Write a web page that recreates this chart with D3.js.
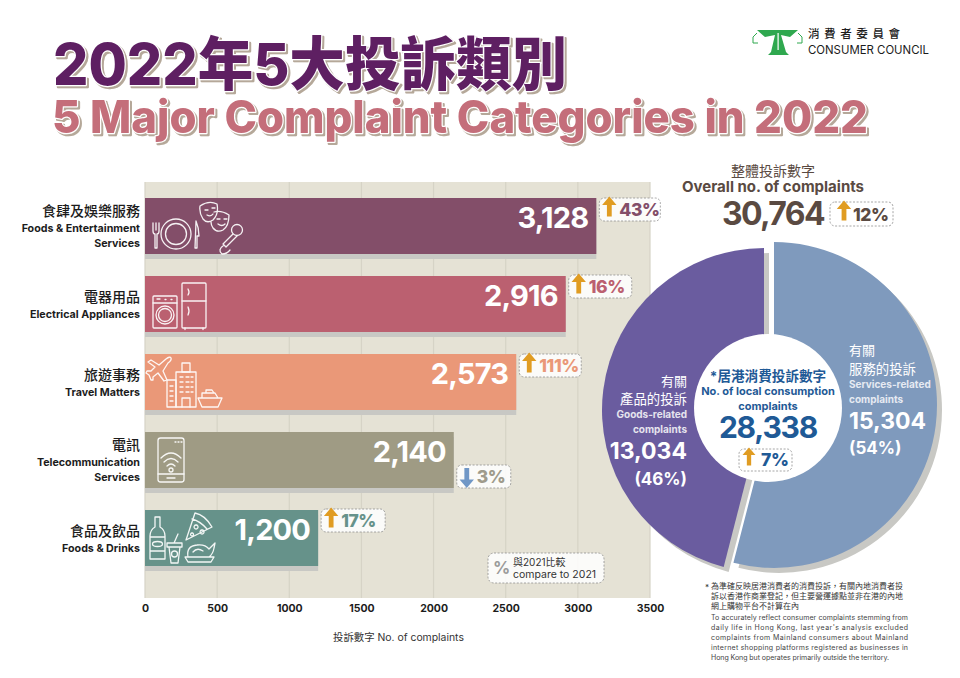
<!DOCTYPE html>
<html lang="zh-Hant">
<head>
  <meta charset="UTF-8">
  <title>2022年5大投訴類別</title>
  <style>
    html, body { margin: 0; padding: 0; background: #fff; }
    svg { display: block; }
    text { font-family: Inter, "Noto Sans CJK TC", sans-serif; }
    .cjk { font-family: "Noto Sans CJK TC", sans-serif; }
    .title { paint-order: stroke; stroke: #fff; stroke-width: 2.5; stroke-linejoin: round; filter: drop-shadow(2px 2px 0 #b5a899); }
    .icon { fill: none; stroke: #fff; stroke-width: 1.3; stroke-linejoin: round; stroke-linecap: round; opacity: 0.92; }
  </style>
  <script src="https://d3js.org/d3.v7.min.js"></script>
</head>
<body>
  <div id="chart"></div>

  <script>
    // Bar chart data
    const categories = ["食肆及娛樂服務", "電器用品", "旅遊事務", "電訊", "食品及飲品"];
    const categoriesEn = [
      ["Foods & Entertainment", "Services"],
      ["Electrical Appliances"],
      ["Travel Matters"],
      ["Telecommunication", "Services"],
      ["Foods & Drinks"]
    ];
    const complaints = [3128, 2916, 2573, 2140, 1200];
    const changes = [43, 16, 111, -3, 17];
    const barColors = ["#834e69", "#bb6070", "#ea9878", "#9f9b84", "#66928a"];
    const changeColors = ["#834e69", "#bb6070", "#ea9878", "#9f9b8c", "#66928a"];
    const tickValues = [0, 500, 1000, 1500, 2000, 2500, 3000, 3500];

    // Pie data
    const pieNames = ["services", "goods"];
    const pieValues = [15304, 13034];
    const piePercents = [54, 46];
    const pieColors = ["#7f9abd", "#6a5c9f"];
    const overallTotal = 30764;
    const overallChange = 12;
    const localTotal = 28338;
    const localChange = 7;

    const footnoteZh = [
      "為準確反映居港消費者的消費投訴，有關內地消費者投",
      "訴以香港作商業登記，但主要營運據點並非在港的內地",
      "網上購物平台不計算在內"
    ];
    const footnoteEn = [
      "To accurately reflect consumer complaints stemming from",
      "daily life in Hong Kong, last year's analysis excluded",
      "complaints from Mainland consumers about Mainland",
      "internet shopping platforms registered as businesses in",
      "Hong Kong but operates primarily outside the territory."
    ];

    const width = 960;
    const height = 678;
    const fmt = d3.format(",");
    const arrowUp = "#e09c22";
    const arrowDown = "#7097c6";
    const shadow = "#c8c8c4";
    const brown = "#5a4a42";
    const blue = "#1f5a96";

    const svg = d3.select("#chart").append("svg")
      .attr("width", width)
      .attr("height", height);

    // Title, white halo with a tan shadow behind it
    function drawTitle(str, x, y, size, len, color) {
      svg.append("text")
        .attr("class", "title")
        .attr("x", x)
        .attr("y", y)
        .attr("font-size", size)
        .attr("font-weight", 800)
        .attr("textLength", len)
        .attr("lengthAdjust", "spacingAndGlyphs")
        .attr("fill", color)
        .text(str);
    }
    drawTitle("2022年5大投訴類別", 53, 85, 58, 514, "#5e1f62");
    drawTitle("5 Major Complaint Categories in 2022", 52, 133, 45, 816, "#c46e7a");

    // Logo
    const logo = svg.append("g").attr("fill", "#2fa84f");
    logo.append("path").attr("d", "M757,30 L798,30 L790,37 L781,35 L786,52 L789,55 L768,55 L771,52 L775,35 L765,37 Z");
    logo.append("path").attr("d", "M757,33 L753,37 L753,43 L758,43 M798,33 L802,37 L802,43 L797,43")
      .attr("fill", "none").attr("stroke", "#2fa84f").attr("stroke-width", 1);
    logo.append("rect").attr("x", 777.5).attr("y", 33).attr("width", 1.2).attr("height", 17).attr("fill", "#fff");
    svg.append("text").attr("class", "cjk")
      .attr("x", 808).attr("y", 38).attr("font-size", 11.5).attr("font-weight", 500)
      .attr("textLength", 92).attr("fill", "#1c1c1c").text("消費者委員會");
    svg.append("text")
      .attr("x", 808).attr("y", 54).attr("font-size", 12).attr("font-weight", 400)
      .attr("textLength", 121).attr("lengthAdjust", "spacingAndGlyphs")
      .attr("fill", "#1c1c1c").text("CONSUMER COUNCIL");

    // Scales
    const x = d3.scaleLinear().domain([0, 3500]).range([145, 650]);
    const y = d3.scaleBand().domain(categories).range([198, 566]).paddingInner(22 / 78).paddingOuter(0);
    const plotTop = 182;
    const plotBottom = 598;

    // Plot background and grid
    svg.append("rect")
      .attr("x", x(0)).attr("y", plotTop)
      .attr("width", x(3500) - x(0)).attr("height", plotBottom - plotTop)
      .attr("fill", "#e5e2d5");
    svg.append("g").selectAll("line")
      .data(tickValues)
      .join("line")
      .attr("x1", d => x(d)).attr("x2", d => x(d))
      .attr("y1", plotTop).attr("y2", plotBottom)
      .attr("stroke", "#d6d3c6").attr("stroke-width", 1.2);

    // Axis
    const axis = svg.append("g")
      .attr("transform", `translate(0,${plotBottom})`)
      .call(d3.axisBottom(x).tickValues(tickValues).tickFormat(d3.format("d")).tickSize(0).tickPadding(6.5));
    axis.select(".domain").remove();
    axis.selectAll("text")
      .attr("font-size", 10.5).attr("font-weight", 700).attr("fill", "#1c1c1c")
      .style("font-family", "Inter, sans-serif");
    svg.append("text")
      .attr("x", 333).attr("y", 641).attr("font-size", 10.4).attr("fill", "#333")
      .text("投訴數字 No. of complaints");

    // Bars with their drop shadow
    svg.append("g").selectAll("rect")
      .data(categories)
      .join("rect")
      .attr("x", x(0))
      .attr("y", d => y(d) + 5)
      .attr("width", (d, i) => x(complaints[i]) - x(0))
      .attr("height", y.bandwidth())
      .attr("fill", shadow);
    svg.append("g").selectAll("rect")
      .data(categories)
      .join("rect")
      .attr("x", x(0))
      .attr("y", d => y(d))
      .attr("width", (d, i) => x(complaints[i]) - x(0))
      .attr("height", y.bandwidth())
      .attr("fill", (d, i) => barColors[i]);

    // Bar value labels
    svg.append("g").selectAll("text")
      .data(categories)
      .join("text")
      .attr("x", (d, i) => x(complaints[i]) - 8)
      .attr("y", d => y(d) + 30)
      .attr("text-anchor", "end")
      .attr("font-size", 29)
      .attr("font-weight", 700)
      .attr("letter-spacing", -0.8)
      .attr("fill", "#fff")
      .text((d, i) => fmt(complaints[i]));

    // Category labels
    categories.forEach((c, i) => {
      const lines = categoriesEn[i];
      const top = y(c);
      const zhY = lines.length > 1 ? 18 : 26;
      svg.append("text").attr("class", "cjk")
        .attr("x", 140).attr("y", top + zhY)
        .attr("text-anchor", "end").attr("font-size", 14).attr("font-weight", 500).attr("fill", "#1c1c1c")
        .text(c);
      lines.forEach((l, j) => {
        svg.append("text")
          .attr("x", 140).attr("y", top + zhY + 15.5 + j * 15)
          .attr("text-anchor", "end").attr("font-size", 10.7).attr("font-weight", 700).attr("fill", "#1c1c1c")
          .text(l);
      });
    });

    // Arrow pointing up or down, cx is the centre and top its upper end
    function drawArrow(g, cx, top, up, size) {
      const headW = size * 0.36;
      const stemW = size * 0.12;
      const headH = size * 0.42;
      const tip = up ? top : top + size;
      const end = up ? top + size : top;
      const neck = up ? top + headH : top + size - headH;
      g.append("path")
        .attr("d", `M${cx},${tip} L${cx + headW},${neck} L${cx + stemW},${neck} L${cx + stemW},${end} L${cx - stemW},${end} L${cx - stemW},${neck} L${cx - headW},${neck} Z`)
        .attr("fill", up ? arrowUp : arrowDown);
    }

    // Dashed change badge
    function drawBadge(left, top, w, h, value, color, arrowDx, textDx, arrowSize) {
      const g = svg.append("g");
      g.append("rect")
        .attr("x", left).attr("y", top).attr("width", w).attr("height", h).attr("rx", 5)
        .attr("fill", "#fff").attr("fill-opacity", 0.85)
        .attr("stroke", "#8f8f8f").attr("stroke-width", 0.8).attr("stroke-dasharray", "2 1.6");
      drawArrow(g, left + arrowDx, value > 0 ? top - 1.5 : top + 3, value > 0, arrowSize);
      g.append("text")
        .attr("x", left + textDx).attr("y", top + h - 5)
        .attr("font-size", 17.5).attr("font-weight", 800).attr("letter-spacing", -0.4)
        .attr("fill", color).text(Math.abs(value) + "%");
    }

    const badgeWidths = [61, 63, 62, 54, 64];
    const badgeOffsets = [0, -1, 0, 33, -1];
    categories.forEach((c, i) => {
      drawBadge(x(complaints[i]) + 3, y(c) + badgeOffsets[i], badgeWidths[i], 23, changes[i], changeColors[i], 10, 20, 20);
    });

    // Legend for the percent badge
    svg.append("rect")
      .attr("x", 488).attr("y", 553).attr("width", 116).attr("height", 30).attr("rx", 6)
      .attr("fill", "#fff").attr("fill-opacity", 0.85)
      .attr("stroke", "#8f8f8f").attr("stroke-width", 0.8).attr("stroke-dasharray", "2 1.6");
    svg.append("text").attr("x", 493).attr("y", 574).attr("font-size", 17).attr("font-weight", 700).attr("fill", "#9b9b9b").text("%");
    svg.append("text").attr("x", 513).attr("y", 566).attr("font-size", 10).attr("fill", "#333").text("與2021比較");
    svg.append("text").attr("x", 513).attr("y", 578).attr("font-size", 10.5).attr("fill", "#333").text("compare to 2021");

    // Icons, local coordinates from the top left of each bar
    function icons(i) {
      return svg.append("g").attr("class", "icon").attr("transform", `translate(${x(0)},${y(categories[i])})`);
    }

    // Dining and entertainment
    let ic = icons(0);
    ic.append("circle").attr("cx", 31).attr("cy", 36).attr("r", 15);
    ic.append("circle").attr("cx", 31).attr("cy", 36).attr("r", 10.5);
    ic.append("path").attr("d", "M8,25 V33 Q8,36 10,36 V50 H12 V36 Q14,36 14,33 V25 M11,25 V32");
    ic.append("path").attr("d", "M51,23 Q54,30 54,38 H52 V50 H50 Z");
    ic.append("path").attr("d", "M55,8 Q64,2 72,6 Q74,16 68,22 Q62,26 58,21 Q54,15 55,8 Z M60,12 h3 M67,10 h3 M62,17 q4,2 6,-1");
    ic.append("path").attr("d", "M69,14 Q76,12 84,17 Q84,28 78,32 Q72,35 68,30 Q66,27 66,24 M72,21 h3 M79,21 h3 M73,26 q4,3 7,0");
    ic.append("circle").attr("cx", 92).attr("cy", 32).attr("r", 5.5);
    ic.append("path").attr("d", "M88,36 L78,46 L81,49 L92,38 M79,47 Q72,52 77,56 Q82,56 85,52");

    // Washer and fridge
    ic = icons(1);
    ic.append("rect").attr("x", 8).attr("y", 20).attr("width", 24).attr("height", 32).attr("rx", 1);
    ic.append("path").attr("d", "M8,27 H32 M12,23 h3 M20,23.5 h1 M26,23.5 h1");
    ic.append("circle").attr("cx", 20).attr("cy", 39).attr("r", 9);
    ic.append("circle").attr("cx", 20).attr("cy", 39).attr("r", 6.5);
    ic.append("rect").attr("x", 37).attr("y", 7).attr("width", 24).attr("height", 45).attr("rx", 1);
    ic.append("path").attr("d", "M37,25 H61 M43,13 q2,3 0,6 M43,31 q2,4 0,8 M40,52 v1.5 M58,52 v1.5");

    // Plane, hotel and cruise ship
    ic = icons(2);
    ic.append("path").attr("d", "M3,8 L6,6 L14,11 L21,5 Q25,2 26,4 Q27,6 23,9 L18,17 L22,26 L19,27 L13,19 L8,23 L8,26 L6,26 L4,21 L1,19 L2,17 L6,17 L10,13 Z");
    ic.append("rect").attr("x", 31).attr("y", 18).attr("width", 20).attr("height", 35);
    ic.append("rect").attr("x", 37).attr("y", 9).attr("width", 8).attr("height", 9);
    ic.append("rect").attr("x", 22).attr("y", 26).attr("width", 9).attr("height", 27);
    ic.append("path").attr("d", "M35,23 h3 M41,23 h3 M46,23 h2 M35,28 h3 M41,28 h3 M46,28 h2 M35,33 h3 M41,33 h3 M46,33 h2 M35,38 h3 M41,38 h3 M46,38 h2 M25,32 h3 M25,37 h3 M25,42 h3 M25,47 h3 M37,53 V44 H45 V53");
    ic.append("path").attr("d", "M53,44 H77 L73,53 H57 Z M57,44 V39 H70 L73,44 M61,39 V36 H67 L69,39");

    // Phone with wifi
    ic = icons(3);
    ic.append("rect").attr("x", 13).attr("y", 6).attr("width", 26).attr("height", 44).attr("rx", 2.5);
    ic.append("path").attr("d", "M13,42 H39 M22,46 h8 M30,10 h1 M33,10 h1 M36,10 h1");
    ic.append("path").attr("d", "M16,26 Q26,16 36,26 M19,30 Q26,23 33,30 M22,34 Q26,30 30,34");
    ic.append("circle").attr("cx", 26).attr("cy", 38).attr("r", 2);

    // Bottle, cup, pizza and roast chicken
    ic = icons(4);
    ic.append("path").attr("d", "M10,7 H15 V17 Q20,20 20,26 V49 H5 V26 Q5,20 10,17 Z M5,27 H20 M5,41 H20");
    ic.append("ellipse").attr("cx", 12.5).attr("cy", 34).attr("rx", 5).attr("ry", 2.5);
    ic.append("path").attr("d", "M22,33 H37 V37 H22 Z M24,37 L26,53 H33 L35,37 M29,33 L33,24");
    ic.append("circle").attr("cx", 29.5).attr("cy", 44).attr("r", 3);
    ic.append("path").attr("d", "M50,3 Q60,5 67,17 L45,28 L41,30 Z M47,9 Q55,11 62,19 M51,15 a2,2 0 1,0 .1,0 M47,23 a1.5,1.5 0 1,0 .1,0 M57,20 a2,2 0 1,0 .1,0");
    ic.append("path").attr("d", "M40,47 H69 L66,52 H43 Z M43,47 Q41,36 52,35 Q60,34 64,39 L70,33 L69,38 Q68,44 64,47 M48,42 Q52,37 58,41");

    // Overall number
    svg.append("text").attr("class", "cjk")
      .attr("x", 773).attr("y", 176).attr("text-anchor", "middle")
      .attr("font-size", 14).attr("fill", brown).text("整體投訴數字");
    svg.append("text")
      .attr("x", 773).attr("y", 192).attr("text-anchor", "middle")
      .attr("font-size", 15).attr("font-weight", 700).attr("fill", brown).text("Overall no. of complaints");
    svg.append("text")
      .attr("x", 824).attr("y", 225).attr("text-anchor", "end")
      .attr("font-size", 32).attr("font-weight", 700).attr("letter-spacing", -1.6)
      .attr("fill", brown).text(fmt(overallTotal));
    drawBadge(830, 202, 63, 24, overallChange, brown, 14, 23, 20);

    // Pie, the slices are pulled apart so each gets its own centre
    const pie = d3.pie().sort(null)(pieValues);
    const pieLayout = { services: { cx: 774, cy: 405, r: 163 }, goods: { cx: 764, cy: 410, r: 162 } };
    const pieArc = d3.arc().innerRadius(0);
    const slices = svg.append("g");
    [5, 0].forEach(off => {
      pie.forEach((d, i) => {
        const p = pieLayout[pieNames[i]];
        slices.append("path")
          .attr("transform", `translate(${p.cx + off},${p.cy + off})`)
          .attr("d", pieArc.outerRadius(p.r)(d))
          .attr("fill", off ? shadow : pieColors[i]);
      });
    });
    svg.append("circle").attr("cx", 768).attr("cy", 408).attr("r", 74).attr("fill", "#fff");

    // Centre text
    const mid = 768;
    svg.append("text").attr("x", mid).attr("y", 381).attr("text-anchor", "middle")
      .attr("font-size", 13.6).attr("font-weight", 700).attr("fill", blue).text("*居港消費投訴數字");
    svg.append("text").attr("x", mid).attr("y", 395).attr("text-anchor", "middle")
      .attr("font-size", 11).attr("font-weight", 700).attr("fill", blue).text("No. of local consumption");
    svg.append("text").attr("x", mid).attr("y", 410).attr("text-anchor", "middle")
      .attr("font-size", 11).attr("font-weight", 700).attr("fill", blue).text("complaints");
    svg.append("text").attr("x", mid).attr("y", 438).attr("text-anchor", "middle")
      .attr("font-size", 30).attr("font-weight", 700).attr("letter-spacing", -1.2)
      .attr("fill", blue).text(fmt(localTotal));
    drawBadge(739, 449, 53, 22, localChange, blue, 10, 22, 18);

    // Slice labels
    function sliceLabel(xPos, anchor, rows) {
      rows.forEach(r => {
        svg.append("text")
          .attr("x", xPos).attr("y", r.y).attr("text-anchor", anchor)
          .attr("font-size", r.size).attr("font-weight", r.weight)
          .attr("fill", r.fill || "#fff").text(r.text);
      });
    }
    sliceLabel(687, "end", [
      { y: 386, size: 13, weight: 400, text: "有關" },
      { y: 404, size: 13.4, weight: 400, text: "產品的投訴" },
      { y: 418, size: 10, weight: 700, text: "Goods-related", fill: "#e6e4ee" },
      { y: 433, size: 10, weight: 700, text: "complaints", fill: "#e6e4ee" },
      { y: 459, size: 23, weight: 700, text: fmt(pieValues[1]) },
      { y: 485, size: 17, weight: 700, text: `(${piePercents[1]}%)` }
    ]);
    sliceLabel(849, "start", [
      { y: 355, size: 13, weight: 400, text: "有關" },
      { y: 374, size: 13.4, weight: 400, text: "服務的投訴" },
      { y: 388, size: 10, weight: 700, text: "Services-related", fill: "#e6eaf2" },
      { y: 403, size: 10, weight: 700, text: "complaints", fill: "#e6eaf2" },
      { y: 429, size: 23, weight: 700, text: fmt(pieValues[0]) },
      { y: 454, size: 17, weight: 700, text: `(${piePercents[0]}%)` }
    ]);

    // Footnote
    svg.append("text").attr("x", 705).attr("y", 590).attr("font-size", 8.2).attr("fill", "#333").text("*");
    svg.append("g").selectAll("text")
      .data(footnoteZh)
      .join("text")
      .attr("class", "cjk")
      .attr("x", 711)
      .attr("y", (d, i) => 589 + i * 10)
      .attr("font-size", 8)
      .attr("fill", "#333")
      .text(d => d);
    svg.append("g").selectAll("text")
      .data(footnoteEn)
      .join("text")
      .attr("x", 711)
      .attr("y", (d, i) => 620 + i * 10)
      .attr("font-size", 7)
      .attr("fill", "#444")
      .attr("textLength", (d, i) => i === footnoteEn.length - 1 ? 178 : 197)
      .text(d => d);
  </script>
</body>
</html>
